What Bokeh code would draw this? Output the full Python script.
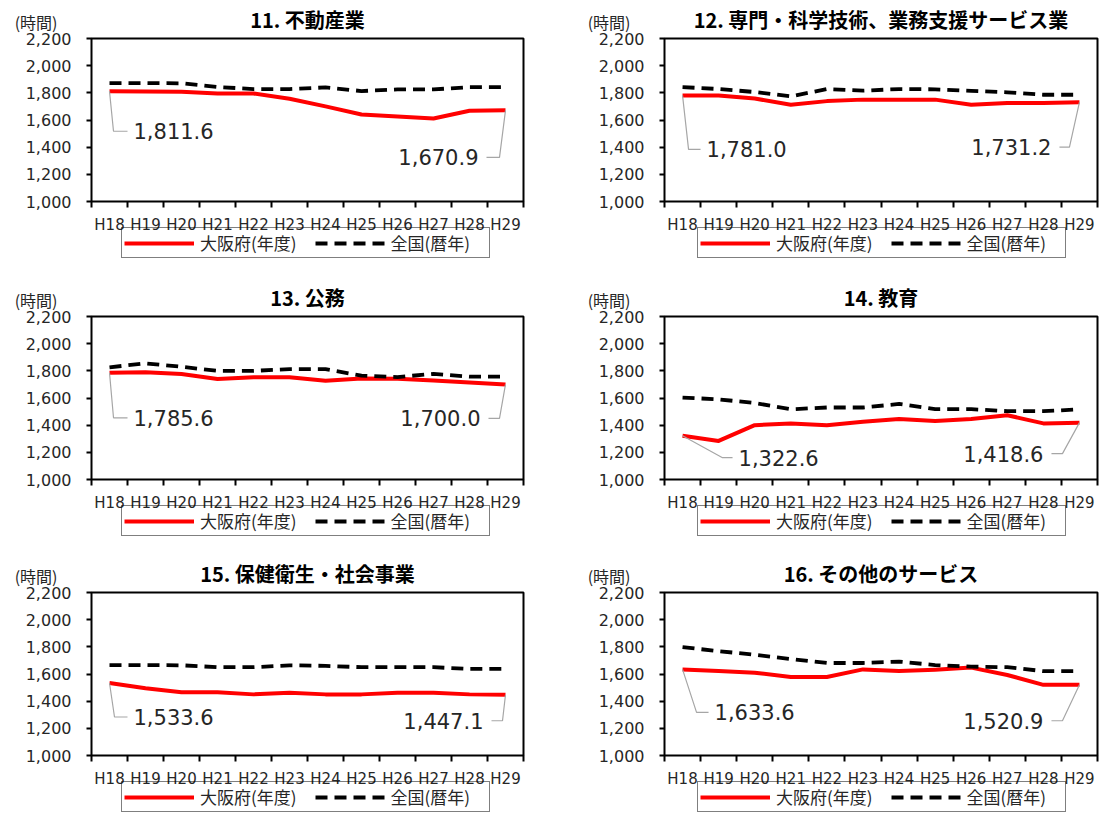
from bokeh.plotting import figure
from bokeh.layouts import column, row
from bokeh.models import (FixedTicker, NumeralTickFormatter, Legend, LegendItem,
                          Label, Range1d)
from bokeh.embed import file_html
from bokeh.resources import INLINE
from bokeh.core.properties import value

# ---------------- data ----------------
years = ["H18", "H19", "H20", "H21", "H22", "H23", "H24", "H25", "H26", "H27", "H28", "H29"]
y_ticks = [1000, 1200, 1400, 1600, 1800, 2000, 2200]
unit_label = "(時間)"
legend_osaka = "大阪府(年度)"
legend_zenkoku = "全国(暦年)"

title_11 = "11. 不動産業"
osaka_11 = [1811.6, 1810, 1808, 1795, 1795, 1757, 1700, 1640, 1626, 1611, 1668, 1670.9]
zenkoku_11 = [1872, 1872, 1870, 1843, 1828, 1828, 1840, 1813, 1825, 1825, 1842, 1842]

title_12 = "12. 専門・科学技術、業務支援サービス業"
osaka_12 = [1781.0, 1780, 1758, 1712, 1739, 1750, 1750, 1750, 1712, 1725, 1725, 1731.2]
zenkoku_12 = [1842, 1828, 1806, 1774, 1828, 1816, 1828, 1826, 1814, 1804, 1786, 1786]

title_13 = "13. 公務"
osaka_13 = [1785.6, 1790, 1776, 1740, 1752, 1752, 1727, 1744, 1742, 1728, 1715, 1700.0]
zenkoku_13 = [1826, 1855, 1830, 1800, 1800, 1812, 1812, 1765, 1754, 1778, 1757, 1757]

title_14 = "14. 教育"
osaka_14 = [1322.6, 1284, 1400, 1412, 1400, 1425, 1445, 1430, 1445, 1473, 1413, 1418.6]
zenkoku_14 = [1603, 1590, 1563, 1517, 1530, 1530, 1556, 1518, 1518, 1503, 1503, 1516]

title_15 = "15. 保健衛生・社会事業"
osaka_15 = [1533.6, 1495, 1465, 1465, 1450, 1462, 1450, 1450, 1462, 1462, 1450, 1447.1]
zenkoku_15 = [1666, 1666, 1664, 1650, 1650, 1664, 1660, 1650, 1650, 1650, 1637, 1637]

title_16 = "16. その他のサービス"
osaka_16 = [1633.6, 1622, 1610, 1578, 1578, 1634, 1622, 1632, 1647, 1593, 1520, 1520.9]
zenkoku_16 = [1798, 1768, 1742, 1710, 1681, 1681, 1691, 1666, 1654, 1650, 1621, 1621]

# callout layout (screen px): left label (dx to left edge, dy below, elbow dx)
# right label (dx to right edge, dy below, elbow dx)
callout_11 = dict(L=(24, 40, 4), R=(-27, 47, -6))
callout_12 = dict(L=(24, 54, 6), R=(-28, 45, -10))
callout_13 = dict(L=(24, 45, 4), R=(-25, 34, -6))
callout_14 = dict(L=(56, 22, 40), R=(-36, 31, -17))
callout_15 = dict(L=(24, 34, 5), R=(-22, 26, -3))
callout_16 = dict(L=(32, 43, 14), R=(-36, 36, -17))

# ---------------- layout ----------------
FIG_W = 550
BOX_H = 163
ROWS = [(282, 38), (276, 34), (256, 34)]        # (figure height, box top)
COLS = [(91, 27), (114, 3)]                      # (box left, space right)
LEGEND_X = [30, 33]                              # legend left, from box left
LEGEND_BELOW = 57                                # legend bottom, below box bottom

NUM_FONT = "DejaVu Sans"
JP_FONT = "Noto Sans CJK JP"
RED = "#FF0000"
LEADER = "#A6A6A6"
TEXT = "#262626"


def make_panel(title, osaka, zenkoku, callout, col, rowi):
    height, top = ROWS[rowi]
    bl, br = COLS[col]
    fw = FIG_W - bl - br
    bottom = height - top - BOX_H
    n = len(years)
    xs = list(range(n))
    x0b, x1b = -0.5, n - 0.5
    y0b, y1b = y_ticks[0], y_ticks[-1]
    ux = n / fw
    uy = (y1b - y0b) / BOX_H

    p = figure(width=FIG_W, height=height,
               x_range=Range1d(x0b - bl * ux, x1b + br * ux),
               y_range=Range1d(y0b - bottom * uy, y1b + top * uy),
               output_backend="svg", toolbar_location=None,
               min_border=0, min_border_left=0, min_border_right=0,
               min_border_top=0, min_border_bottom=0)
    p.xgrid.visible = False
    p.ygrid.visible = False
    p.outline_line_color = None
    p.background_fill_color = "white"
    p.border_fill_color = "white"

    xa = p.xaxis[0]
    xa.fixed_location = y0b
    xa.ticker = FixedTicker(ticks=xs, minor_ticks=[i - 0.5 for i in range(n + 1)])
    xa.major_label_overrides = {i: y for i, y in zip(xs, years)}
    xa.major_tick_out = 0
    xa.major_tick_in = 0
    xa.minor_tick_out = 6
    xa.minor_tick_in = 0
    xa.minor_tick_line_color = "black"
    xa.minor_tick_line_width = 2
    xa.axis_line_color = None
    xa.major_label_standoff = 8
    xa.major_label_text_font = NUM_FONT
    xa.major_label_text_font_size = "15px"
    xa.major_label_text_color = TEXT

    ya = p.yaxis[0]
    ya.fixed_location = x0b
    ya.ticker = FixedTicker(ticks=y_ticks)
    ya.formatter = NumeralTickFormatter(format="0,0")
    ya.major_tick_out = 5
    ya.major_tick_in = 0
    ya.minor_tick_line_color = None
    ya.major_tick_line_width = 2
    ya.axis_line_color = None
    ya.major_label_standoff = 15
    ya.major_label_text_font = NUM_FONT
    ya.major_label_text_font_size = "16px"
    ya.major_label_text_color = TEXT

    # plot-area box (its left and bottom edges are the axis lines)
    p.quad(left=[x0b], right=[x1b], bottom=[y0b], top=[y1b],
           fill_color=None, line_color="black", line_width=2)

    r1 = p.line(xs, osaka, line_color=RED, line_width=4, line_join="round")
    r2 = p.line(xs, zenkoku, line_color="black", line_width=3.8, line_dash="12 7",
                line_join="round")

    # left callout
    ldx, ldy, lex = callout["L"]
    xa0, ya0 = xs[0], osaka[0]
    lx = xa0 + ldx * ux
    ly = ya0 - ldy * uy
    p.line([xa0, xa0 + lex * ux, lx - 6 * ux], [ya0, ly, ly], line_color=LEADER, line_width=1.2)
    p.text([lx], [ly], text=[f"{osaka[0]:,.1f}"], text_align="left", text_baseline="middle",
           text_font=value(NUM_FONT), text_font_size="21px", text_color=TEXT)
    # right callout
    rdx, rdy, rex = callout["R"]
    xa1, ya1 = xs[-1], osaka[-1]
    rx = xa1 + rdx * ux
    ry = ya1 - rdy * uy
    p.line([xa1, xa1 + rex * ux, rx + 8 * ux], [ya1, ry, ry], line_color=LEADER, line_width=1.2)
    p.text([rx], [ry], text=[f"{osaka[-1]:,.1f}"], text_align="right", text_baseline="middle",
           text_font=value(NUM_FONT), text_font_size="21px", text_color=TEXT)

    # title & unit
    p.add_layout(Label(x=(x0b + x1b) / 2, y=y1b, y_offset=19, text=title,
                       text_align="center", text_baseline="middle",
                       text_font=JP_FONT, text_font_size="20px", text_font_style="bold",
                       text_color="black"))
    p.add_layout(Label(x=x0b, y=y1b, x_offset=-34, y_offset=17, text=unit_label,
                       text_align="right", text_baseline="middle",
                       text_font=JP_FONT, text_font_size="16px", text_color=TEXT))

    legend = Legend(items=[LegendItem(label=legend_osaka, renderers=[r1]),
                           LegendItem(label=legend_zenkoku, renderers=[r2])],
                    orientation="horizontal",
                    location=(bl + LEGEND_X[col], bottom - LEGEND_BELOW),
                    border_line_color="black", border_line_width=1.5,
                    background_fill_color=None, background_fill_alpha=0,
                    padding=2, spacing=18, glyph_width=70, glyph_height=20,
                    label_standoff=6, label_width=96, label_height=20, margin=0,
                    label_text_font=JP_FONT, label_text_font_size="17px",
                    label_text_color=TEXT)
    p.add_layout(legend, "center")
    return p


panels = [
    (title_11, osaka_11, zenkoku_11, callout_11),
    (title_12, osaka_12, zenkoku_12, callout_12),
    (title_13, osaka_13, zenkoku_13, callout_13),
    (title_14, osaka_14, zenkoku_14, callout_14),
    (title_15, osaka_15, zenkoku_15, callout_15),
    (title_16, osaka_16, zenkoku_16, callout_16),
]

rows = []
for r in range(3):
    figs = []
    for c in range(2):
        t, o, z, co = panels[r * 2 + c]
        figs.append(make_panel(t, o, z, co, c, r))
    rows.append(row(*figs))

layout = column(*rows)
open("out.html", "w").write(file_html(layout, INLINE, title="労働時間"))
